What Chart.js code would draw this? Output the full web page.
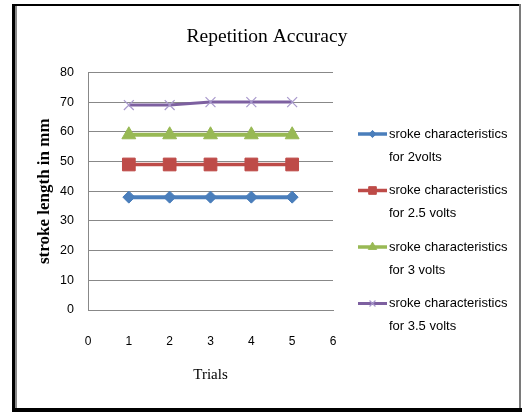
<!DOCTYPE html>
<html>
<head>
<meta charset="utf-8">
<script src="https://cdn.jsdelivr.net/npm/chart.js@4/dist/chart.umd.min.js"></script>
<style>
  html, body { margin: 0; padding: 0; background: #fff; }
  #wrap { width: 522px; height: 412px; }
</style>
</head>
<body>
<div id="wrap"><canvas id="c" width="522" height="412"></canvas></div>
<script>
// Trial numbers on the x axis
const trials = [1, 2, 3, 4, 5];

// Stroke length (mm) per trial for each supply voltage
const stroke2V = [38, 38, 38, 38, 38];
const stroke25V = [49, 49, 49, 49, 49];
const stroke3V = [59, 59, 59, 59, 59];
const stroke35V = [69, 69, 70, 70, 70];

// Legend names, split over two lines
const seriesNames = [
  ['sroke characteristics', 'for 2volts'],
  ['sroke characteristics', 'for 2.5 volts'],
  ['sroke characteristics', 'for 3 volts'],
  ['sroke characteristics', 'for 3.5 volts']
];

const xTicks = [0, 1, 2, 3, 4, 5, 6];
const yTicks = [0, 10, 20, 30, 40, 50, 60, 70, 80];

const toPoints = (vals) => vals.map((v, i) => ({ x: trials[i], y: v }));

const seriesValues = [stroke2V, stroke25V, stroke3V, stroke35V];
const seriesStyle = [
  { color: '#4A7EBB', style: 'rectRot', radius: 6, width: 4, pointBorder: '#4A7EBB', pbw: 1 },
  { color: '#BE4B48', style: 'rect', radius: 9, width: 3.5, pointBorder: '#BE4B48', pbw: 1 },
  { color: '#98B954', style: 'triangle', radius: 8, width: 4, pointBorder: '#98B954', pbw: 1 },
  { color: '#7D60A0', style: 'crossRot', radius: 7, width: 3, pointBorder: '#A898CC', pbw: 1.2 }
];

const datasets = seriesValues.map((vals, i) => ({
  label: seriesNames[i].join(' '),
  legendLines: seriesNames[i],
  data: toPoints(vals),
  borderColor: seriesStyle[i].color,
  backgroundColor: seriesStyle[i].color,
  borderWidth: seriesStyle[i].width,
  pointStyle: seriesStyle[i].style,
  pointRadius: seriesStyle[i].radius,
  pointBackgroundColor: seriesStyle[i].color,
  pointBorderColor: seriesStyle[i].pointBorder,
  pointBorderWidth: seriesStyle[i].pbw,
  tension: 0,
  clip: false
}));

// Outer frame of the chart
const framePlugin = {
  id: 'frame',
  beforeDraw(chart) {
    const ctx = chart.ctx;
    ctx.save();
    ctx.fillStyle = '#fff';
    ctx.fillRect(0, 0, chart.width, chart.height);
    ctx.fillStyle = '#000';
    ctx.fillRect(12, 4, 508, 2);
    ctx.fillRect(12, 4, 3, 408);
    ctx.fillRect(12, 408, 510, 4);
    ctx.fillStyle = '#8a8a8a';
    ctx.fillRect(15, 6, 2, 402);
    ctx.fillStyle = '#7a7a7a';
    ctx.fillRect(519, 4, 2, 404);
    ctx.restore();
  }
};

// Two-line legend drawn in the space reserved on the right
const sideLegend = {
  id: 'sideLegend',
  afterDraw(chart) {
    const ctx = chart.ctx;
    const area = chart.chartArea;
    const lineX0 = area.right + 25;
    const lineX1 = area.right + 54;
    const textX = area.right + 56;
    const firstY = 134;
    const entryGap = 56.5;
    const lineGap = 23;
    ctx.save();
    ctx.font = '13px "Liberation Sans", Arial, sans-serif';
    ctx.fillStyle = '#000';
    ctx.textBaseline = 'middle';
    ctx.textAlign = 'left';
    chart.data.datasets.forEach((ds, i) => {
      const y = firstY + i * entryGap;
      ctx.strokeStyle = ds.borderColor;
      ctx.lineWidth = Math.min(ds.borderWidth, 3.5);
      ctx.beginPath();
      ctx.moveTo(lineX0, y);
      ctx.lineTo(lineX1, y);
      ctx.stroke();
      ctx.fillStyle = ds.pointBackgroundColor;
      ctx.strokeStyle = ds.pointBorderColor;
      ctx.lineWidth = ds.pointBorderWidth;
      Chart.helpers.drawPoint(ctx, {
        pointStyle: ds.pointStyle,
        radius: ds.pointRadius * 0.6,
        rotation: 0,
        borderWidth: ds.pointBorderWidth
      }, (lineX0 + lineX1) / 2, y);
      ctx.fillStyle = '#000';
      ds.legendLines.forEach((t, k) => ctx.fillText(t, textX, y + k * lineGap));
    });
    ctx.restore();
  }
};

new Chart(document.getElementById('c'), {
  type: 'line',
  data: { datasets },
  plugins: [framePlugin, sideLegend],
  options: {
    responsive: false,
    animation: false,
    devicePixelRatio: 1,
    layout: { padding: { left: 14, right: 2, top: 4, bottom: 4 } },
    plugins: {
      legend: { display: false },
      tooltip: { enabled: false },
      title: {
        display: true,
        text: 'Repetition Accuracy',
        color: '#000',
        font: { family: '"Liberation Serif", "Times New Roman", serif', size: 19.5, weight: 'normal' },
        padding: { top: 21, bottom: 24 }
      }
    },
    scales: {
      x: {
        type: 'linear',
        min: xTicks[0],
        max: xTicks[xTicks.length - 1],
        afterBuildTicks(s) { s.ticks = xTicks.map(v => ({ value: v })); },
        afterFit(s) { s.height = 98; },
        grid: { display: false },
        border: { display: true, color: '#888', width: 1 },
        ticks: {
          padding: 16,
          color: '#000',
          font: { family: '"Liberation Sans", Arial, sans-serif', size: 12 }
        },
        title: {
          display: true,
          text: 'Trials',
          color: '#000',
          font: { family: '"Liberation Serif", "Times New Roman", serif', size: 15 },
          padding: { top: 0, bottom: 24 }
        }
      },
      y: {
        min: yTicks[0],
        max: yTicks[yTicks.length - 1],
        afterBuildTicks(s) { s.ticks = yTicks.map(v => ({ value: v })); },
        afterFit(s) { s.width = 74; },
        grid: { color: '#888', lineWidth: 1, drawTicks: false },
        border: { display: true, color: '#888', width: 1 },
        ticks: {
          padding: 14,
          color: '#000',
          font: { family: '"Liberation Sans", Arial, sans-serif', size: 12.5 }
        },
        title: {
          display: true,
          text: 'stroke length in mm',
          color: '#000',
          font: { family: '"Liberation Serif", "Times New Roman", serif', size: 17, weight: 'bold' },
          padding: { top: 20, bottom: 0 }
        }
      },
      legendSpace: {
        type: 'linear',
        position: 'right',
        display: true,
        afterFit(s) { s.width = 187; },
        grid: { display: false },
        border: { display: false },
        ticks: { display: false }
      }
    }
  }
});
</script>
</body>
</html>
